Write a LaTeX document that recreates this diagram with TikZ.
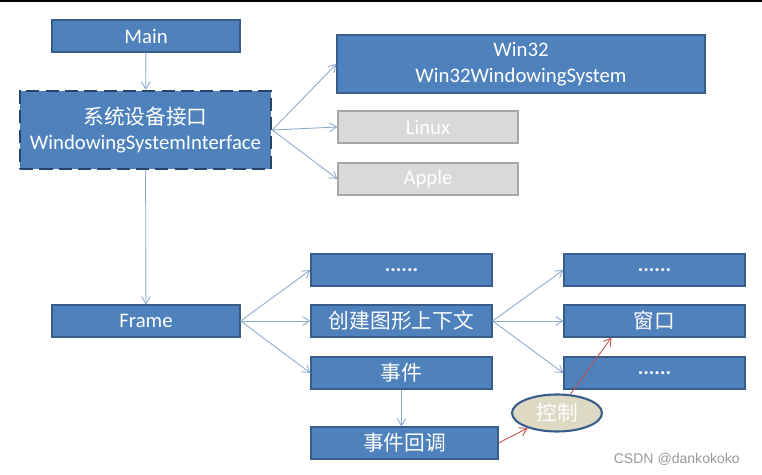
\documentclass[tikz,border=0pt]{standalone}
\usepackage{fontspec}
\usepackage{xcolor}
\setmainfont{Carlito}
\newfontfamily\cjk{Noto Sans CJK SC}
\newfontfamily\wmfont{Liberation Sans}
\usepackage{tikz}
\usetikzlibrary{arrows.meta,shapes.geometric}
\definecolor{boxblue}{HTML}{4F81BD}
\definecolor{boxedge}{HTML}{385D8A}
\definecolor{dashedge}{HTML}{27456B}
\definecolor{linkblue}{HTML}{8EA9CC}
\definecolor{osgray}{HTML}{D9D9D9}
\definecolor{osedge}{HTML}{A6A6A6}
\definecolor{ctrlfill}{HTML}{DDD9C3}
\definecolor{ctrlred}{HTML}{C0504D}

\begin{document}
\begin{tikzpicture}[x=0.02cm,y=-0.02cm,
    box/.style={draw=boxedge, fill=boxblue, line width=0.7pt, text=white,
                font=\fontsize{11.8}{14.5}\selectfont, align=center,
                minimum width=3.62cm, minimum height=0.64cm, inner sep=0pt},
    osbox/.style={box, draw=osedge, fill=osgray},
    link/.style={draw=linkblue, line width=0.5pt, -{Straight Barb[length=4pt,width=5pt]}},
    ctrllink/.style={draw=ctrlred, line width=0.5pt, -{Straight Barb[length=4pt,width=5pt]}}]
                \useasboundingbox (0,0) rectangle (762,475);
                \fill[black] (0,0) rectangle (762,2);
                % left column
                \node[box, minimum width=3.76cm] (main) at (146,36) {Main};
                \node[box, minimum width=5.02cm, minimum height=1.56cm, draw=dashedge, line width=1.5pt,
                      dash pattern=on 7.5pt off 3.5pt] (iface) at (145.5,130) {{\cjk 系统设备接口}\\WindowingSystemInterface};
                \node[box, minimum width=3.76cm] (frame) at (146,321) {Frame};
                % platforms
                \node[box, minimum width=7.36cm, minimum height=1.16cm] (win32) at (521,64) {Win32\\Win32WindowingSystem};
                \node[osbox, minimum width=3.6cm] (linux) at (428,127) {Linux};
                \node[osbox, minimum width=3.6cm] (apple) at (428,179) {Apple};
                % middle column
                \node[box] (more1) at (401.5,270) {\textbf{......}};
                \node[box] (ctx) at (401.5,321) {\cjk 创建图形上下文};
                \node[box] (event) at (401.5,373) {\cjk 事件};
                \node[box, minimum width=3.74cm] (callback) at (404.5,443) {\cjk 事件回调};
                % right column
                \node[box] (more2) at (654.5,270) {\textbf{......}};
                \node[box] (win) at (654.5,321) {\cjk 窗口};
                \node[box] (more3) at (654.5,373) {\textbf{......}};
                \node[ellipse, draw=boxedge, line width=1.2pt, fill=ctrlfill, text=white!95!ctrlfill,
                      font=\fontsize{11.8}{14.5}\selectfont, minimum width=1.8cm, minimum height=0.74cm,
                      inner sep=0pt] (ctrl) at (557,413) {\cjk 控制};
                \coordinate (winin) at ([xshift=0.96cm]win.south west);
                % connectors
                \draw[link] (main) -- (iface);
                \draw[link] (iface.east) -- (win32.west);
                \draw[link] (iface.east) -- (linux.west);
                \draw[link] (iface.east) -- (apple.west);
                \draw[link] (iface) -- (frame);
                \draw[link] (frame.east) -- (more1.west);
                \draw[link] (frame.east) -- (ctx.west);
                \draw[link] (frame.east) -- (event.west);
                \draw[link] (ctx.east) -- (more2.west);
                \draw[link] (ctx.east) -- (win.west);
                \draw[link] (ctx.east) -- (more3.west);
                \draw[link] (event.south) -- (event.south |- callback.north);
                \draw[ctrllink] (callback.east) -- (ctrl);
                \draw[ctrllink] (ctrl) -- (winin);
                \node[text=gray!80, font=\wmfont\fontsize{8}{10}\selectfont, anchor=east] (mark) at (746,459) {CSDN @dankokoko};
            \end{tikzpicture}
\end{document}
